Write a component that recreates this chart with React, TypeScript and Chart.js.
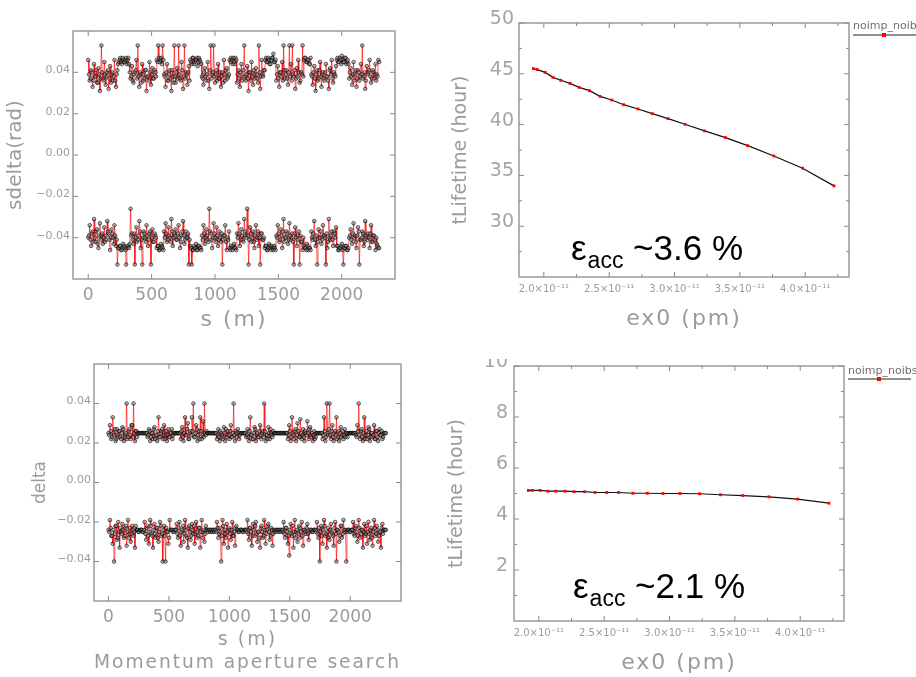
import React, { useEffect, useRef } from "react";
import { Chart, registerables } from "chart.js";

Chart.register(...registerables);

// ---------- data: momentum aperture (s in m), two interleaved sample sets ----------
const S_M = [
  0, 12, 23, 35, 46, 58, 69, 81, 92, 104,
  115, 127, 138, 150, 161, 173, 184, 196, 207, 219,
  230, 242, 253, 265, 276, 288, 299, 311, 322, 334,
  345, 357, 368, 380, 391, 403, 414, 426, 437, 449,
  460, 472, 483, 495, 506, 518, 529, 541, 552, 564,
  575, 587, 598, 610, 621, 633, 644, 656, 667, 679,
  690, 702, 713, 725, 736, 748, 759, 771, 782, 794,
  805, 817, 828, 840, 851, 863, 874, 886, 897, 909,
  920, 932, 943, 955, 966, 978, 989, 1001, 1012, 1024,
  1035, 1047, 1058, 1070, 1081, 1093, 1104, 1116, 1127, 1139,
  1150, 1162, 1173, 1185, 1196, 1208, 1219, 1231, 1242, 1254,
  1265, 1277, 1288, 1300, 1311, 1323, 1334, 1346, 1357, 1369,
  1380, 1392, 1403, 1415, 1426, 1438, 1449, 1461, 1472, 1484,
  1495, 1507, 1518, 1530, 1541, 1553, 1564, 1576, 1587, 1599,
  1610, 1622, 1633, 1645, 1656, 1668, 1679, 1691, 1702, 1714,
  1725, 1737, 1748, 1760, 1771, 1783, 1794, 1806, 1817, 1829,
  1840, 1852, 1863, 1875, 1886, 1898, 1909, 1921, 1932, 1944,
  1955, 1967, 1978, 1990, 2001, 2013, 2024, 2036, 2047, 2059,
  2070, 2082, 2093, 2105, 2116, 2128, 2139, 2151, 2162, 2174,
  2185, 2197, 2208, 2220, 2231, 2243, 2254, 2266, 2277, 2289,
];
const S_M2 = [
  6, 18, 29, 41, 52, 64, 75, 87, 98, 110,
  121, 133, 144, 156, 167, 179, 190, 202, 213, 225,
  236, 248, 259, 271, 282, 294, 305, 317, 328, 340,
  351, 363, 374, 386, 397, 409, 420, 432, 443, 455,
  466, 478, 489, 501, 512, 524, 535, 547, 558, 570,
  581, 593, 604, 616, 627, 639, 650, 662, 673, 685,
  696, 708, 719, 731, 742, 754, 765, 777, 788, 800,
  811, 823, 834, 846, 857, 869, 880, 892, 903, 915,
  926, 938, 949, 961, 972, 984, 995, 1007, 1018, 1030,
  1041, 1053, 1064, 1076, 1087, 1099, 1110, 1122, 1133, 1145,
  1156, 1168, 1179, 1191, 1202, 1214, 1225, 1237, 1248, 1260,
  1271, 1283, 1294, 1306, 1317, 1329, 1340, 1352, 1363, 1375,
  1386, 1398, 1409, 1421, 1432, 1444, 1455, 1467, 1478, 1490,
  1501, 1513, 1524, 1536, 1547, 1559, 1570, 1582, 1593, 1605,
  1616, 1628, 1639, 1651, 1662, 1674, 1685, 1697, 1708, 1720,
  1731, 1743, 1754, 1766, 1777, 1789, 1800, 1812, 1823, 1835,
  1846, 1858, 1869, 1881, 1892, 1904, 1915, 1927, 1938, 1950,
  1961, 1973, 1984, 1996, 2007, 2019, 2030, 2042, 2053, 2065,
  2076, 2088, 2099, 2111, 2122, 2134, 2145, 2157, 2168, 2180,
  2191, 2203, 2214, 2226, 2237, 2249, 2260, 2272, 2283, 2295,
];

const SDELTA_POS = [
  .046, .036, .041, .033, .044, .038, .035, .042, .031, .053,
  .037, .045, .034, .040, .032, .043, .039, .036, .046, .033,
  .041, .045, .047, .044, .046, .045, .047, .046, .044, .037,
  .043, .035, .040, .046, .053, .033, .039, .044, .036, .041,
  .031, .038, .045, .034, .042, .037, .040, .046, .053, .045,
  .047, .053, .039, .033, .044, .036, .041, .031, .038, .053,
  .035, .042, .053, .037, .045, .032, .053, .040, .034, .043,
  .046, .044, .047, .045, .046, .043, .047, .045, .038, .034,
  .042, .036, .045, .032, .053, .039, .053, .035, .041, .044,
  .037, .033, .040, .046, .036, .042, .038, .046, .047, .044,
  .045, .047, .035, .041, .033, .044, .038, .053, .036, .043,
  .031, .040, .045, .034, .039, .042, .037, .053, .032, .046,
  .038, .041, .047, .045, .046, .044, .047, .049, .045, .036,
  .043, .033, .040, .045, .053, .037, .041, .034, .053, .044,
  .053, .038, .032, .042, .046, .035, .040, .053, .046, .047,
  .045, .046, .044, .039, .034, .043, .031, .041, .037, .045,
  .033, .040, .036, .044, .038, .032, .042, .046, .035, .039,
  .043, .047, .045, .046, .048, .045, .047, .044, .046, .037,
  .042, .034, .045, .039, .033, .041, .036, .044, .053, .038,
  .032, .043, .040, .046, .035, .041, .037, .044, .039, .046,
];
const SDELTA_POS_B = [
  .039, .037, .040, .036, .038, .041, .035, .039, .037, .040,
  .036, .039, .038, .041, .037, .035, .040, .038, .036, .039,
  .044, .046, .045, .047, .045, .046, .044, .047, .040, .038,
  .036, .039, .041, .037, .038, .040, .035, .039, .037, .041,
  .038, .036, .040, .039, .037, .041, .038, .045, .047, .046,
  .044, .046, .038, .040, .036, .039, .037, .041, .035, .038,
  .040, .037, .039, .036, .041, .038, .037, .039, .040, .036,
  .045, .047, .044, .046, .047, .045, .046, .044, .037, .040,
  .038, .039, .036, .041, .037, .040, .038, .039, .036, .037,
  .040, .038, .035, .039, .041, .037, .039, .045, .046, .047,
  .044, .046, .039, .037, .040, .036, .041, .038, .039, .037,
  .040, .036, .038, .041, .037, .039, .035, .040, .038, .039,
  .041, .046, .045, .047, .044, .046, .047, .045, .046, .039,
  .037, .040, .038, .036, .041, .039, .037, .040, .038, .036,
  .039, .041, .037, .038, .040, .036, .039, .038, .047, .045,
  .046, .044, .047, .038, .040, .037, .039, .036, .041, .038,
  .039, .037, .040, .038, .036, .041, .039, .037, .040, .038,
  .046, .045, .047, .044, .046, .045, .047, .045, .044, .040,
  .038, .039, .036, .041, .037, .040, .038, .039, .037, .040,
  .036, .039, .041, .038, .037, .040, .039, .036, .038, .045,
];

const SDELTA_NEG = [
  -.040, -.034, -.044, -.037, -.031, -.042, -.036, -.045, -.033, -.039,
  -.043, -.035, -.041, -.032, -.038, -.046, -.036, -.040, -.034, -.044,
  -.053, -.045, -.044, -.046, -.043, -.045, -.053, -.044, -.045, -.026,
  -.038, -.043, -.053, -.035, -.041, -.032, -.045, -.053, -.037, -.040,
  -.034, -.044, -.038, -.053, -.036, -.042, -.039, -.045, -.044, -.046,
  -.043, -.045, -.037, -.033, -.042, -.035, -.040, -.031, -.044, -.038,
  -.036, -.041, -.034, -.045, -.039, -.032, -.043, -.037, -.040, -.053,
  -.044, -.053, -.046, -.045, -.043, -.046, -.044, -.045, -.039, -.034,
  -.043, -.036, -.041, -.026, -.038, -.045, -.033, -.040, -.035, -.044,
  -.037, -.042, -.053, -.039, -.034, -.046, -.041, -.045, -.044, -.046,
  -.043, -.045, -.038, -.033, -.044, -.036, -.041, -.031, -.039, -.026,
  -.053, -.035, -.042, -.037, -.045, -.034, -.040, -.044, -.053, -.038,
  -.041, -.045, -.044, -.046, -.043, -.045, -.044, -.046, -.045, -.039,
  -.034, -.042, -.036, -.045, -.031, -.040, -.037, -.043, -.033, -.041,
  -.038, -.053, -.035, -.044, -.039, -.053, -.042, -.046, -.044, -.045,
  -.043, -.046, -.045, -.037, -.041, -.032, -.044, -.053, -.036, -.040,
  -.043, -.034, -.039, -.053, -.045, -.031, -.041, -.037, -.044, -.038,
  -.035, -.044, -.046, -.045, -.043, -.053, -.045, -.044, -.046, -.040,
  -.036, -.043, -.033, -.039, -.045, -.035, -.053, -.041, -.037, -.044,
  -.032, -.040, -.038, -.045, -.034, -.042, -.039, -.046, -.043, -.045,
];
const SDELTA_NEG_B = [
  -.039, -.041, -.038, -.042, -.040, -.037, -.043, -.039, -.041, -.038,
  -.040, -.042, -.039, -.037, -.041, -.040, -.038, -.043, -.039, -.041,
  -.045, -.044, -.046, -.045, -.044, -.046, -.045, -.044, -.043, -.039,
  -.041, -.038, -.040, -.042, -.039, -.037, -.041, -.040, -.038, -.042,
  -.039, -.041, -.037, -.040, -.042, -.038, -.040, -.044, -.046, -.045,
  -.044, -.046, -.040, -.038, -.041, -.039, -.042, -.037, -.040, -.039,
  -.041, -.038, -.040, -.042, -.037, -.039, -.041, -.040, -.038, -.041,
  -.045, -.046, -.044, -.045, -.046, -.044, -.045, -.046, -.041, -.038,
  -.040, -.039, -.042, -.037, -.041, -.040, -.038, -.042, -.039, -.041,
  -.040, -.038, -.041, -.039, -.042, -.040, -.037, -.046, -.045, -.044,
  -.045, -.046, -.040, -.038, -.041, -.039, -.042, -.037, -.040, -.039,
  -.041, -.038, -.040, -.042, -.039, -.041, -.037, -.040, -.038, -.041,
  -.040, -.044, -.046, -.045, -.044, -.046, -.045, -.044, -.046, -.040,
  -.038, -.041, -.039, -.037, -.042, -.040, -.038, -.041, -.039, -.040,
  -.042, -.038, -.040, -.041, -.037, -.039, -.042, -.040, -.045, -.046,
  -.044, -.045, -.046, -.040, -.038, -.041, -.039, -.042, -.040, -.037,
  -.041, -.039, -.040, -.038, -.042, -.040, -.039, -.041, -.037, -.040,
  -.044, -.046, -.045, -.044, -.046, -.045, -.044, -.046, -.045, -.039,
  -.041, -.038, -.040, -.042, -.039, -.037, -.041, -.040, -.038, -.042,
  -.039, -.041, -.040, -.038, -.042, -.039, -.041, -.040, -.044, -.045,
];

const DELTA_POS = [
  .025, .029, .022, .033, .024, .021, .027, .023, .026, .022,
  .028, .021, .024, .040, .023, .027, .022, .029, .040, .021,
  .026, .025, .025, .025, .025, .025, .025, .025, .023, .027,
  .021, .025, .022, .028, .024, .021, .033, .023, .026, .022,
  .029, .024, .021, .027, .023, .025, .022, .025, .025, .025,
  .025, .025, .022, .028, .021, .033, .024, .030, .022, .026,
  .033, .040, .023, .029, .021, .026, .033, .022, .031, .040,
  .024, .025, .025, .025, .025, .025, .025, .025, .022, .027,
  .021, .025, .023, .028, .021, .024, .026, .022, .029, .023,
  .040, .021, .025, .027, .022, .025, .025, .025, .025, .023,
  .027, .021, .033, .024, .022, .028, .021, .025, .023, .029,
  .022, .026, .040, .021, .024, .028, .022, .025, .023, .025,
  .025, .025, .025, .025, .025, .025, .025, .025, .025, .022,
  .029, .021, .033, .024, .026, .021, .030, .023, .032, .022,
  .027, .021, .025, .031, .022, .028, .024, .021, .026, .023,
  .025, .025, .025, .025, .022, .033, .021, .040, .024, .040,
  .022, .029, .021, .026, .033, .023, .021, .028, .024, .022,
  .027, .025, .023, .025, .025, .025, .025, .025, .024, .029,
  .040, .022, .027, .021, .033, .024, .022, .028, .021, .025,
  .023, .029, .022, .026, .021, .027, .024, .022, .025, .025,
];
const DELTA_POS_B = [
  .024, .026, .023, .025, .027, .022, .024, .026, .023, .025,
  .027, .023, .025, .022, .026, .024, .029, .023, .025, .026,
  .023, .025, .025, .025, .025, .025, .025, .025, .024, .026,
  .023, .025, .027, .022, .024, .026, .023, .025, .027, .024,
  .022, .026, .024, .023, .025, .027, .024, .025, .025, .025,
  .025, .025, .026, .023, .025, .024, .027, .022, .025, .024,
  .026, .023, .025, .027, .024, .022, .026, .024, .023, .025,
  .026, .025, .025, .025, .025, .025, .025, .025, .024, .023,
  .026, .024, .022, .025, .027, .023, .024, .026, .023, .025,
  .024, .026, .023, .025, .024, .025, .025, .025, .025, .024,
  .023, .026, .024, .022, .025, .027, .024, .023, .026, .024,
  .025, .023, .026, .024, .022, .025, .027, .024, .026, .025,
  .025, .025, .025, .025, .025, .025, .025, .025, .025, .024,
  .026, .023, .025, .022, .027, .024, .026, .023, .025, .024,
  .023, .026, .024, .025, .027, .023, .025, .024, .022, .025,
  .025, .025, .025, .025, .024, .026, .023, .025, .027, .024,
  .026, .023, .025, .024, .022, .026, .025, .023, .026, .024,
  .023, .025, .025, .025, .025, .025, .025, .025, .023, .026,
  .024, .026, .023, .025, .022, .026, .024, .027, .023, .025,
  .024, .022, .026, .023, .025, .024, .026, .023, .025, .025,
];

const DELTA_NEG = [
  -.024, -.019, -.027, -.031, -.040, -.022, -.029, -.020, -.033, -.025,
  -.021, -.028, -.023, -.032, -.019, -.026, -.030, -.022, -.027, -.033,
  -.024, -.024, -.025, -.024, -.024, -.025, -.020, -.029, -.022, -.031,
  -.019, -.026, -.033, -.021, -.028, -.023, -.030, -.020, -.027, -.040,
  -.022, -.040, -.025, -.031, -.019, -.024, -.024, -.025, -.024, -.021,
  -.028, -.020, -.032, -.024, -.030, -.019, -.027, -.033, -.022, -.029,
  -.021, -.026, -.031, -.020, -.028, -.023, -.033, -.019, -.025, -.030,
  -.022, -.024, -.024, -.025, -.024, -.024, -.025, -.024, -.020, -.028,
  -.023, -.040, -.019, -.031, -.026, -.021, -.033, -.024, -.029, -.020,
  -.027, -.032, -.022, -.024, -.025, -.024, -.024, -.025, -.024, -.024,
  -.019, -.029, -.023, -.032, -.021, -.027, -.020, -.030, -.025, -.033,
  -.022, -.028, -.019, -.031, -.024, -.021, -.029, -.023, -.032, -.024,
  -.024, -.025, -.024, -.024, -.025, -.024, -.020, -.028, -.023, -.031,
  -.037, -.021, -.027, -.033, -.019, -.025, -.030, -.022, -.028, -.020,
  -.032, -.024, -.026, -.021, -.029, -.024, -.024, -.025, -.024, -.024,
  -.020, -.028, -.040, -.022, -.031, -.019, -.027, -.033, -.023, -.029,
  -.021, -.026, -.032, -.020, -.040, -.024, -.030, -.022, -.028, -.019,
  -.025, -.040, -.024, -.024, -.025, -.024, -.020, -.027, -.022, -.030,
  -.019, -.028, -.024, -.033, -.021, -.026, -.031, -.020, -.029, -.023,
  -.032, -.019, -.027, -.022, -.030, -.025, -.033, -.021, -.024, -.024,
];
const DELTA_NEG_B = [
  -.025, -.023, -.027, -.024, -.026, -.022, -.028, -.025, -.023, -.026,
  -.024, -.027, -.022, -.025, -.028, -.023, -.026, -.024, -.025, -.022,
  -.024, -.025, -.024, -.024, -.025, -.024, -.026, -.023, -.027, -.025,
  -.022, -.027, -.024, -.026, -.023, -.028, -.025, -.022, -.026, -.024,
  -.027, -.023, -.025, -.028, -.024, -.024, -.025, -.024, -.024, -.026,
  -.023, -.027, -.025, -.022, -.026, -.024, -.028, -.023, -.025, -.027,
  -.024, -.022, -.026, -.025, -.027, -.023, -.025, -.028, -.024, -.026,
  -.024, -.025, -.024, -.024, -.025, -.024, -.024, -.025, -.023, -.026,
  -.025, -.027, -.022, -.024, -.028, -.025, -.023, -.026, -.024, -.027,
  -.025, -.023, -.024, -.025, -.024, -.024, -.025, -.024, -.024, -.025,
  -.026, -.023, -.025, -.027, -.024, -.022, -.026, -.025, -.028, -.023,
  -.025, -.027, -.024, -.026, -.022, -.025, -.027, -.024, -.026, -.025,
  -.024, -.024, -.025, -.024, -.024, -.025, -.026, -.023, -.025, -.027,
  -.024, -.026, -.022, -.025, -.028, -.024, -.026, -.023, -.025, -.027,
  -.024, -.025, -.023, -.026, -.025, -.024, -.025, -.024, -.024, -.025,
  -.026, -.023, -.025, -.027, -.024, -.022, -.026, -.025, -.028, -.024,
  -.025, -.027, -.023, -.026, -.024, -.025, -.027, -.022, -.026, -.024,
  -.024, -.025, -.024, -.025, -.024, -.024, -.026, -.023, -.025, -.027,
  -.023, -.026, -.024, -.025, -.027, -.022, -.025, -.026, -.024, -.028,
  -.025, -.023, -.026, -.024, -.027, -.025, -.023, -.026, -.024, -.024,
];

const S_TICKS = [0, 500, 1000, 1500, 2000];
const DELTA_TICKS = [-0.04, -0.02, 0, 0.02, 0.04];

// ---------- data: lifetime vs emittance ----------
const EX0 = [
  1.92e-11, 1.95e-11, 2.01e-11, 2.07e-11, 2.13e-11, 2.20e-11, 2.27e-11,
  2.35e-11, 2.43e-11, 2.52e-11, 2.61e-11, 2.72e-11, 2.83e-11, 2.95e-11,
  3.08e-11, 3.23e-11, 3.39e-11, 3.56e-11, 3.76e-11, 3.98e-11, 4.22e-11,
];
const LIFETIME_TOP = [
  45.51, 45.41, 45.14, 44.65, 44.36, 44.06, 43.67, 43.34, 42.78, 42.42, 41.96,
  41.54, 41.08, 40.59, 40.03, 39.38, 38.72, 37.93, 36.91, 35.71, 33.97,
];
const LIFETIME_BOTTOM = [
  5.12, 5.12, 5.12, 5.09, 5.09, 5.09, 5.07, 5.07, 5.04, 5.04, 5.04,
  5.01, 5.01, 5.00, 5.00, 4.99, 4.95, 4.92, 4.87, 4.78, 4.62,
];
const EX0_TICKS = [2.0e-11, 2.25e-11, 2.5e-11, 2.75e-11, 3.0e-11, 3.25e-11, 3.5e-11, 3.75e-11, 4.0e-11, 4.25e-11];
const LIFE_TOP_TICKS = [27.5, 30, 32.5, 35, 37.5, 40, 42.5, 45, 47.5, 50];
const LIFE_BOTTOM_TICKS = [1, 2, 3, 4, 5, 6, 7, 8, 9, 10];
const SERIES_NAME = "noimp_noibs";
const EPS_TOP = "~3.6 %";
const EPS_BOTTOM = "~2.1 %";

// ---------- styling ----------
const W = 916;
const H = 677;
const CLIP4 = 359;
const GREY = "#9b9b9b";
const PLAIN = '"DejaVu Sans", sans-serif';
const SPACED = '"DejaVu Sans", Verdana, sans-serif';
const ARIAL = '"Liberation Sans", Arial, sans-serif';

const decor = {
  id: "decor",
  beforeDraw(chart: any) {
    const ctx: any = chart.ctx;
    if (!ctx.__spaced) {
      const orig = ctx.fillText;
      ctx.fillText = function (t: string, x: number, y: number, mw?: number) {
        this.letterSpacing = String(this.font).includes("Verdana") ? "2px" : "0px";
        if (mw === undefined) return orig.call(this, t, x, y);
        return orig.call(this, t, x, y, mw);
      };
      ctx.__spaced = true;
    }
  },
  afterDraw(chart: any, _a: any, opts: any) {
    const { ctx, chartArea: a, scales } = chart;
    ctx.save();
    ctx.strokeStyle = "#9a9a9a";
    ctx.lineWidth = 1.5;
    ctx.strokeRect(a.left, a.top, a.right - a.left, a.bottom - a.top);
    ctx.lineWidth = 1;
    ctx.strokeStyle = "#8a8a8a";
    const seg = (x1: number, y1: number, x2: number, y2: number) => {
      ctx.beginPath();
      ctx.moveTo(x1, y1);
      ctx.lineTo(x2, y2);
      ctx.stroke();
    };
    scales.x.ticks.forEach((t: any) => {
      const px = scales.x.getPixelForValue(t.value);
      const len = t.label ? 5 : 3;
      seg(px, a.bottom, px, a.bottom - len);
      seg(px, a.top, px, a.top + len);
    });
    scales.y.ticks.forEach((t: any) => {
      const py = scales.y.getPixelForValue(t.value);
      const len = t.label ? 5 : 3;
      seg(a.left, py, a.left + len, py);
      seg(a.right, py, a.right - len, py);
    });
    if (opts && opts.legend) {
      const lg = opts.legend;
      ctx.letterSpacing = "0px";
      ctx.font = `11px ${PLAIN}`;
      ctx.fillStyle = "#6f6f6f";
      ctx.textAlign = "left";
      ctx.textBaseline = "middle";
      ctx.fillText(chart.data.datasets[0].label, lg.x, lg.ty);
      ctx.strokeStyle = "#222";
      ctx.lineWidth = 1.2;
      seg(lg.x, lg.ly, lg.x2, lg.ly);
      ctx.fillStyle = "#ff0000";
      ctx.fillRect(lg.mx - 2, lg.ly - 2, 4, 4);
    }
    if (opts && opts.note) {
      const n = opts.note;
      ctx.letterSpacing = "0px";
      ctx.fillStyle = "#000";
      ctx.textAlign = "left";
      ctx.textBaseline = "alphabetic";
      ctx.font = `35px ${ARIAL}`;
      ctx.fillText("ε", n.x, n.base);
      let cx = n.x + ctx.measureText("ε").width + 1;
      ctx.font = `23px ${ARIAL}`;
      ctx.fillText("acc", cx, n.base + 8);
      cx += ctx.measureText("acc").width;
      ctx.font = `35px ${ARIAL}`;
      ctx.fillText(" " + n.text, cx, n.base);
    }
    ctx.restore();
  },
};

const minusFmt = (v: number, d: number) => (v < -1e-12 ? "\u2212" : "") + Math.abs(v).toFixed(d);

function pts(xs: number[], ys: number[]) {
  return xs.map((x, i) => ({ x, y: ys[i] }));
}

function interleave(a: number[], b: number[]) {
  const out: { x: number; y: number }[] = [];
  S_M.forEach((s, i) => {
    out.push({ x: s, y: a[i] });
    out.push({ x: S_M2[i], y: b[i] });
  });
  return out;
}

function apertureSet(a: number[], b: number[]) {
  return {
    data: interleave(a, b),
    showLine: true,
    borderColor: "rgba(255,0,0,0.8)",
    borderWidth: 0.8,
    pointRadius: 1.8,
    pointBackgroundColor: "rgba(130,130,130,0.5)",
    pointBorderColor: "rgba(0,0,0,0.85)",
    pointBorderWidth: 0.7,
  };
}

function apertureConfig(p: any): any {
  return {
    type: "scatter",
    data: { datasets: [apertureSet(p.pos, p.posB), apertureSet(p.neg, p.negB)] },
    plugins: [decor],
    options: {
      responsive: false,
      animation: false,
      events: [],
      layout: {
        padding: { left: p.l - p.yw, right: W - p.r, top: p.t, bottom: H - p.b - p.xh },
      },
      plugins: { legend: { display: false }, tooltip: { enabled: false }, decor: {} },
      scales: {
        x: {
          type: "linear",
          min: -120,
          max: 2420,
          afterFit: (s: any) => { s.height = p.xh; },
          afterBuildTicks: (s: any) => { s.ticks = S_TICKS.map((v) => ({ value: v })); },
          grid: { display: false, drawTicks: false },
          border: { display: false },
          ticks: {
            color: GREY,
            font: { family: PLAIN, size: 17 },
            padding: p.xtp,
            maxRotation: 0,
            autoSkip: false,
            callback: (v: number) => String(v),
          },
          title: {
            display: true,
            text: p.xTitle,
            color: GREY,
            font: { family: SPACED, size: p.xts },
            padding: { top: p.xtPad, bottom: p.xtPad },
          },
        },
        y: {
          type: "linear",
          min: -0.06,
          max: 0.06,
          afterFit: (s: any) => { s.width = p.yw; },
          afterBuildTicks: (s: any) => { s.ticks = DELTA_TICKS.map((v) => ({ value: v })); },
          grid: { display: false, drawTicks: false },
          border: { display: false },
          ticks: {
            color: GREY,
            font: { family: PLAIN, size: 11 },
            padding: 3,
            labelOffset: -2,
            autoSkip: false,
            callback: (v: number) => minusFmt(v, 2),
          },
          title: {
            display: true,
            text: p.yTitle,
            color: GREY,
            font: { family: PLAIN, size: p.yts },
            padding: { top: p.ytPad, bottom: p.ytPad },
          },
        },
      },
    },
  };
}

function lifetimeConfig(p: any): any {
  return {
    type: "scatter",
    data: {
      datasets: [
        {
          label: SERIES_NAME,
          data: pts(EX0, p.life),
          showLine: true,
          borderColor: "#111",
          borderWidth: 1.2,
          pointStyle: "rect",
          pointRadius: 2,
          pointBackgroundColor: "#ff0000",
          pointBorderColor: "#ff0000",
          pointBorderWidth: 0,
        },
      ],
    },
    plugins: [decor],
    options: {
      responsive: false,
      animation: false,
      events: [],
      layout: {
        padding: { left: p.l - p.yw, right: W - p.r, top: p.t, bottom: H - p.b - p.xh },
      },
      plugins: {
        legend: { display: false },
        tooltip: { enabled: false },
        decor: { legend: p.legend, note: p.note },
      },
      scales: {
        x: {
          type: "linear",
          min: 1.81e-11,
          max: 4.335e-11,
          afterFit: (s: any) => { s.height = p.xh; },
          afterBuildTicks: (s: any) => { s.ticks = EX0_TICKS.map((v) => ({ value: v })); },
          grid: { display: false, drawTicks: false },
          border: { display: false },
          ticks: {
            color: GREY,
            font: { family: PLAIN, size: 10 },
            padding: p.xtp,
            maxRotation: 0,
            autoSkip: false,
            callback: (v: number) => {
              const m = v * 1e11;
              return Math.abs(m * 2 - Math.round(m * 2)) < 1e-6
                ? m.toFixed(1) + "\u00d710\u207b\u00b9\u00b9"
                : "";
            },
          },
          title: {
            display: true,
            text: "ex0 (pm)",
            color: GREY,
            font: { family: SPACED, size: 22 },
            padding: { top: p.xtPad, bottom: p.xtPad },
          },
        },
        y: {
          type: "linear",
          min: p.ymin,
          max: p.ymax,
          afterFit: (s: any) => { s.width = p.yw; },
          afterBuildTicks: (s: any) => { s.ticks = p.yticks.map((v: number) => ({ value: v })); },
          grid: { display: false, drawTicks: false },
          border: { display: false },
          ticks: {
            color: "#a5a5a5",
            font: { family: PLAIN, size: 19 },
            padding: p.ytp,
            labelOffset: -4,
            autoSkip: false,
            callback: (v: number) => (Math.abs(v / p.ylab - Math.round(v / p.ylab)) < 1e-6 ? String(v) : ""),
          },
          title: {
            display: true,
            text: "tLifetime (hour)",
            color: GREY,
            font: { family: PLAIN, size: 19 },
            padding: { top: p.ytPad, bottom: p.ytPad },
          },
        },
      },
    },
  };
}

export default function App() {
  const r1 = useRef<HTMLCanvasElement>(null);
  const r2 = useRef<HTMLCanvasElement>(null);
  const r3 = useRef<HTMLCanvasElement>(null);
  const r4 = useRef<HTMLCanvasElement>(null);

  useEffect(() => {
    const charts: Chart[] = [];
    charts.push(
      new Chart(
        r1.current!,
        apertureConfig({
          l: 73, r: 395, t: 31, b: 279, yw: 73, xh: 60,
          pos: SDELTA_POS, posB: SDELTA_POS_B, neg: SDELTA_NEG, negB: SDELTA_NEG_B,
          yTitle: "sdelta(rad)", yts: 20, ytPad: 4,
          xTitle: "s (m)", xts: 22, xtPad: 6, xtp: 6,
        })
      )
    );
    charts.push(
      new Chart(
        r2.current!,
        lifetimeConfig({
          l: 519, r: 849, t: 23, b: 277, yw: 79, xh: 60,
          life: LIFETIME_TOP, ymin: 25, ymax: 50, yticks: LIFE_TOP_TICKS, ylab: 5,
          ytp: 5, ytPad: 10, xtp: 6, xtPad: 5,
          legend: { x: 853, ty: 26, ly: 35, x2: 916, mx: 884 },
          note: { x: 571, base: 260, text: EPS_TOP },
        })
      )
    );
    charts.push(
      new Chart(
        r3.current!,
        apertureConfig({
          l: 94, r: 401, t: 364, b: 601, yw: 94, xh: 76,
          pos: DELTA_POS, posB: DELTA_POS_B, neg: DELTA_NEG, negB: DELTA_NEG_B,
          yTitle: "delta", yts: 17, ytPad: 30,
          xTitle: ["s (m)", "Momentum aperture search"], xts: 19, xtPad: 3, xtp: 6,
        })
      )
    );
    charts.push(
      new Chart(
        r4.current!,
        lifetimeConfig({
          l: 514, r: 844, t: 366, b: 621, yw: 74, xh: 56,
          life: LIFETIME_BOTTOM, ymin: 0, ymax: 10, yticks: LIFE_BOTTOM_TICKS, ylab: 2,
          ytp: 6, ytPad: 6, xtp: 6, xtPad: 1,
          legend: { x: 848, ty: 371, ly: 379, x2: 911, mx: 879 },
          note: { x: 573, base: 598, text: EPS_BOTTOM },
        })
      )
    );
    return () => charts.forEach((c) => c.destroy());
  }, []);

  const cs: React.CSSProperties = { position: "absolute", left: 0, top: 0, width: W, height: H };
  return (
    <div style={{ position: "absolute", left: 0, top: 0, width: W, height: H, background: "#fff", overflow: "hidden" }}>
      <canvas ref={r1} width={W} height={H} style={cs} />
      <canvas ref={r2} width={W} height={H} style={cs} />
      <canvas ref={r3} width={W} height={H} style={cs} />
      <div style={{ position: "absolute", left: 0, top: CLIP4, width: W, height: H - CLIP4, overflow: "hidden" }}>
        <canvas ref={r4} width={W} height={H} style={{ ...cs, top: -CLIP4 }} />
      </div>
    </div>
  );
}
